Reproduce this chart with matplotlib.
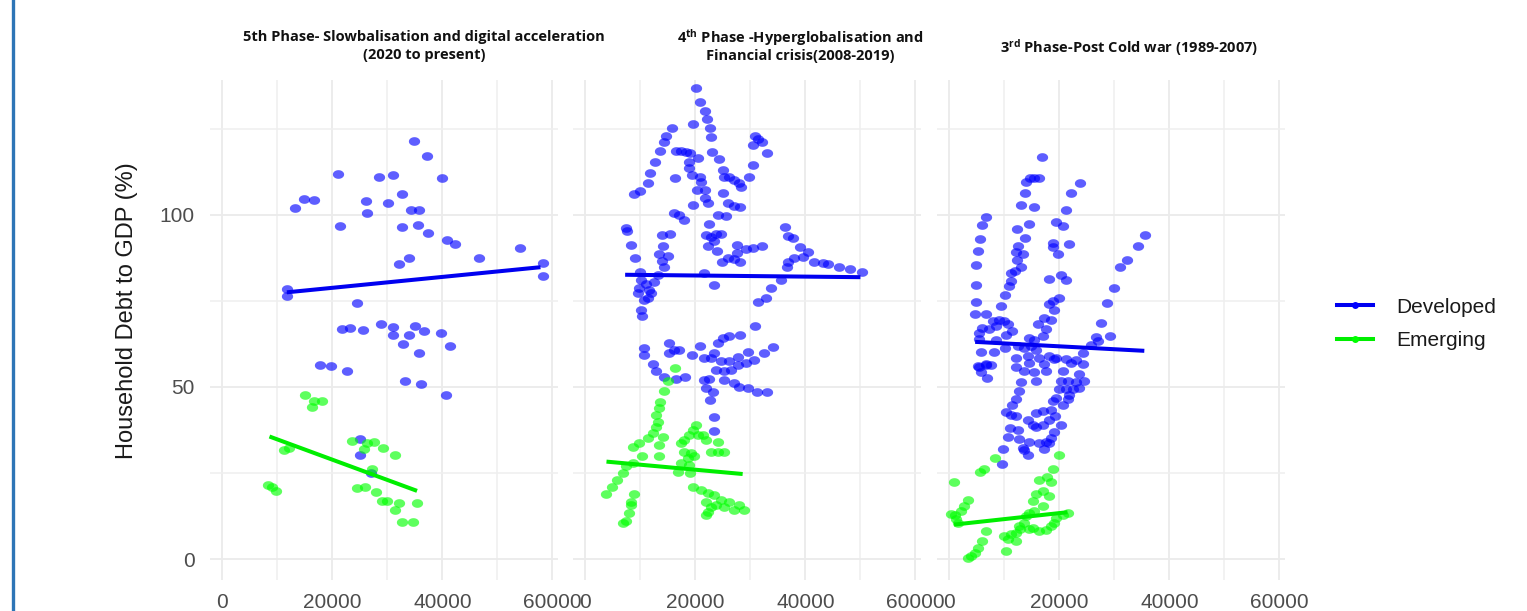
import numpy as np
import matplotlib
matplotlib.use("Agg")
import matplotlib.pyplot as plt
from matplotlib.path import Path
from matplotlib.lines import Line2D

plt.rcParams['font.family'] = ['Liberation Sans', 'DejaVu Sans']
plt.rcParams['mathtext.fontset'] = 'custom'
plt.rcParams['mathtext.rm'] = 'Open Sans:bold'
plt.rcParams['mathtext.it'] = 'Open Sans:bold'
plt.rcParams['mathtext.bf'] = 'Open Sans:bold'

# ---------------- data (GDP per capita, household debt % of GDP) ----------------
# 5th phase (2020 to present)
p5_dev = [(34790, 121.5), (37210, 117.2), (21030, 111.9), (28550, 110.9), (30970, 111.7),
          (39940, 110.8), (14790, 104.7), (16730, 104.4), (13270, 102.0), (26180, 104.1),
          (30060, 103.5), (32670, 106.0), (26360, 100.5), (34300, 101.5), (35700, 101.5),
          (21330, 96.8), (32670, 96.5), (35580, 97.0), (37400, 94.6), (40780, 92.7),
          (42360, 91.6), (54180, 90.3), (46600, 87.6), (34000, 87.6), (32180, 85.7),
          (58240, 86.1), (58240, 82.3), (11760, 78.6), (11760, 76.3), (24480, 74.3),
          (21760, 66.9), (23270, 67.1), (25510, 66.6), (28910, 68.4), (30970, 67.4),
          (31030, 65.0), (33870, 65.0), (34970, 67.8), (36600, 66.2), (39760, 65.6),
          (41330, 61.9), (32910, 62.6), (35700, 59.8), (17760, 56.4), (19700, 56.1),
          (22600, 54.6), (33270, 51.8), (36120, 50.9), (40670, 47.7), (25090, 35.0),
          (25090, 30.1), (27030, 24.9)]
p5_em = [(14970, 47.8), (16600, 45.9), (18120, 45.9), (16300, 44.1), (23580, 34.2),
         (27520, 33.9), (29210, 32.3), (25700, 32.1), (26300, 33.6), (31330, 30.1),
         (11150, 31.8), (12060, 32.4), (27210, 26.3), (8420, 21.5), (9030, 20.8),
         (9820, 19.7), (24480, 20.6), (26000, 20.8), (28000, 19.4), (29030, 17.0),
         (29940, 17.0), (32060, 16.2), (35450, 16.2), (31330, 14.2), (32670, 10.7),
         (34600, 10.7)]
p5_dev_fit = [(11760, 77.5), (57820, 84.8)]
p5_em_fit = [(8600, 35.6), (35400, 19.8)]

# 4th phase (2008-2019)
p4_dev = [(20120, 137.0), (20910, 132.7), (21820, 130.3), (22060, 127.9), (22610, 125.2),
          (22850, 122.6), (19640, 126.4), (15760, 125.2), (14670, 123.0), (14360, 121.1),
          (13640, 118.5), (12730, 115.5), (11700, 112.3), (11450, 109.2), (9940, 106.8),
          (8790, 106.2), (16480, 118.5), (17390, 118.7), (18300, 118.4), (19090, 117.9),
          (20550, 116.5), (18910, 115.3), (18910, 113.6), (19330, 111.6), (20910, 111.1),
          (21030, 109.7), (16360, 110.6), (23030, 118.2), (24360, 116.2), (24970, 113.1),
          (25150, 110.9), (26060, 110.9), (26970, 110.2), (27880, 109.4), (28300, 108.2),
          (29820, 110.9), (30420, 114.4), (30420, 120.2), (30910, 122.8), (31330, 122.0),
          (32060, 121.1), (32970, 118.1), (20300, 107.1), (21820, 107.1), (21760, 104.9),
          (22240, 103.4), (19640, 102.8), (24970, 106.3), (25880, 103.4), (26970, 102.7),
          (28180, 102.4), (24060, 100.0), (25580, 99.7), (16180, 100.5), (17090, 100.0),
          (18000, 98.5), (22420, 97.4), (7390, 96.1), (7580, 95.4), (8300, 91.3),
          (9090, 87.4), (9940, 83.5), (13880, 94.1), (15390, 94.4), (14060, 91.1),
          (13450, 88.7), (15090, 88.1), (13880, 86.6), (14240, 84.8), (21940, 94.2),
          (22850, 93.7), (23760, 94.4), (24670, 94.5), (23450, 92.4), (22240, 91.1),
          (23940, 89.5), (27580, 91.3), (29210, 90.1), (30420, 90.3), (32120, 91.1),
          (27580, 88.9), (25880, 87.4), (24790, 86.3), (28120, 86.4), (26970, 87.1),
          (36300, 96.6), (36790, 93.9), (37700, 93.2), (39090, 90.8), (40420, 89.3),
          (39520, 87.9), (38000, 87.4), (36790, 86.4), (41640, 86.4), (43150, 85.9),
          (44180, 85.7), (46180, 85.0), (48180, 84.4), (50240, 83.3), (36670, 84.8),
          (35580, 81.1), (33760, 78.7), (32850, 75.8), (31330, 74.8), (30850, 67.7),
          (21640, 83.0), (23330, 79.7), (10120, 81.1), (11030, 79.9), (12550, 80.6),
          (13150, 82.6), (9820, 78.7), (11640, 78.2), (9520, 77.2), (10730, 75.3),
          (10120, 72.4), (10420, 70.5), (11940, 77.2), (11330, 75.8), (10730, 61.4),
          (10730, 59.3), (12240, 56.6), (12850, 54.5), (14240, 52.8), (15270, 62.9),
          (15150, 59.8), (16180, 60.8), (17090, 60.8), (16480, 52.2), (18120, 52.8),
          (19330, 59.3), (20910, 61.9), (21640, 58.3), (22850, 58.3), (23450, 59.8),
          (24060, 62.9), (24970, 64.1), (26180, 64.8), (28180, 65.1), (24670, 57.4),
          (26180, 57.4), (27700, 58.8), (29510, 60.3), (30730, 57.9), (32550, 60.0),
          (34060, 61.7), (23760, 54.9), (25270, 54.5), (26480, 55.0), (27700, 56.4),
          (29210, 56.9), (21640, 52.0), (22550, 52.2), (25270, 52.0), (27090, 51.1),
          (27880, 50.1), (29510, 49.6), (31210, 48.6), (33030, 48.4), (21940, 49.6),
          (23150, 48.4), (22730, 46.2), (23330, 41.4), (23450, 37.2)]
p4_em = [(16300, 55.4), (15090, 51.7), (14360, 48.7), (13640, 45.7), (13450, 43.8),
         (12850, 41.9), (13150, 39.9), (12850, 38.3), (12240, 36.5), (11330, 35.1),
         (9820, 33.6), (8610, 32.5), (14060, 35.6), (13450, 33.1), (10420, 29.8),
         (13450, 29.8), (8610, 27.8), (7390, 26.9), (6790, 24.9), (5880, 23.0),
         (4970, 21.0), (3880, 18.9), (8790, 18.9), (8420, 16.7), (8300, 15.7),
         (8000, 13.5), (7390, 11.1), (6970, 10.6), (20120, 39.0), (19520, 37.5),
         (18910, 36.1), (18000, 34.6), (17390, 33.6), (20420, 36.1), (21330, 36.1),
         (21940, 34.6), (24060, 34.1), (22850, 31.2), (24060, 31.2), (25270, 31.2),
         (19210, 30.7), (19820, 29.8), (18610, 29.3), (18000, 31.2), (17390, 27.8),
         (18910, 27.3), (16790, 25.4), (19090, 24.9), (19520, 21.0), (21030, 20.1),
         (22240, 19.1), (23450, 18.6), (24670, 17.2), (26180, 16.7), (28000, 15.7),
         (28910, 14.3), (27090, 14.3), (22240, 13.8), (22850, 15.2), (21940, 16.7),
         (23760, 15.7), (25270, 15.2), (21940, 12.8)]
p4_dev_fit = [(7270, 82.6), (50000, 81.9)]
p4_em_fit = [(3880, 28.3), (28610, 24.7)]

# 3rd phase (1989-2007)
p3_dev = [(16790, 116.9), (13940, 109.5), (14730, 110.8), (15450, 110.8), (16240, 110.8),
          (23760, 109.3), (13820, 106.3), (22120, 106.3), (13030, 102.8), (15450, 102.3),
          (21210, 101.5), (6670, 99.3), (6060, 97.2), (14540, 97.3), (19390, 97.8),
          (20600, 96.9), (12300, 95.8), (5580, 93.1), (13820, 93.4), (5330, 89.6),
          (12600, 90.9), (12120, 89.2), (13330, 88.7), (18790, 91.7), (18910, 90.7),
          (21690, 91.4), (19700, 88.5), (4850, 85.4), (12240, 86.8), (13030, 84.8),
          (12000, 83.6), (11210, 83.1), (18180, 81.3), (20300, 82.6), (21210, 81.0),
          (11210, 80.7), (10910, 79.2), (4970, 79.7), (10180, 76.6), (4970, 74.8),
          (9390, 73.5), (20000, 75.8), (18790, 75.0), (18180, 74.0), (19090, 72.3),
          (4730, 71.1), (6670, 71.1), (7880, 69.1), (9090, 69.6), (10000, 69.1),
          (8480, 67.7), (6060, 67.2), (5450, 65.7), (7270, 66.7), (10610, 68.2),
          (11510, 66.4), (17270, 70.1), (18480, 69.4), (16060, 68.2), (17580, 66.7),
          (16970, 64.7), (15450, 63.5), (14540, 64.2), (5450, 63.8), (8600, 63.5),
          (10300, 65.2), (12600, 61.8), (13640, 61.3), (14850, 61.8), (15760, 60.8),
          (10180, 61.3), (8180, 60.3), (5760, 60.1), (12120, 58.4), (14240, 58.9),
          (16360, 58.4), (18180, 58.9), (19390, 58.4), (21210, 58.2), (23030, 57.9),
          (24240, 59.8), (25750, 62.3), (26970, 63.3), (26660, 64.4), (29270, 64.7),
          (27570, 68.5), (28660, 74.4), (29990, 78.9), (30960, 84.8), (32300, 86.8),
          (34240, 91.1), (35570, 94.1), (6670, 56.4), (5450, 55.9), (5330, 56.1),
          (6670, 56.6), (7580, 56.4), (5760, 54.2), (6970, 52.5), (12120, 55.7),
          (13640, 54.7), (14540, 57.1), (15760, 51.7), (13030, 51.3), (12720, 48.8),
          (12120, 46.4), (11510, 44.9), (10300, 42.7), (11210, 41.9), (12120, 41.5),
          (11030, 38.2), (12420, 37.5), (10610, 35.6), (12720, 34.8), (9700, 32.1),
          (13330, 32.3), (9580, 27.7), (14240, 30.2), (13640, 31.6), (14540, 34.1),
          (15760, 38.5), (14300, 40.5), (15760, 42.4), (16970, 42.9), (18180, 40.5),
          (16360, 33.6), (17580, 34.1), (18480, 35.1), (19090, 37.0), (20300, 39.0),
          (19270, 41.5), (18480, 43.4), (18790, 45.9), (19390, 46.8), (20600, 44.9),
          (21510, 46.4), (21820, 47.8), (22420, 49.3), (21210, 49.3), (20000, 49.3),
          (20300, 51.7), (21510, 51.7), (23030, 51.3), (23630, 53.7), (24540, 51.7),
          (23510, 49.6), (20600, 54.7), (22120, 57.1), (24240, 56.8), (15450, 54.2),
          (17580, 54.7), (17270, 56.6), (19090, 58.1), (16970, 39.0), (15150, 39.0),
          (17270, 32.1), (18060, 33.6)]
p3_em = [(20000, 30.2), (18790, 26.3), (17760, 23.8), (16360, 23.1), (18540, 22.3),
         (16970, 19.9), (15760, 18.9), (18060, 18.2), (15150, 17.0), (16970, 15.5),
         (15450, 14.0), (14540, 13.5), (21510, 13.5), (20600, 12.7), (19390, 12.0),
         (19090, 10.6), (18480, 9.6), (17580, 8.4), (15150, 9.1), (13940, 12.5),
         (12960, 8.6), (12120, 7.7), (11210, 7.2), (10000, 6.7), (10610, 5.7),
         (12120, 5.2), (10300, 2.2), (12720, 9.6), (13640, 10.6), (6670, 8.1),
         (6060, 5.3), (5330, 3.3), (4730, 1.7), (3940, 0.8), (3450, 0.3),
         (970, 22.3), (420, 13.0), (1030, 12.7), (1640, 10.6), (2120, 14.0),
         (2730, 15.5), (3450, 17.2), (1330, 11.6), (5580, 25.3), (6360, 26.3),
         (8360, 29.4), (14540, 8.6), (16360, 8.1)]
p3_dev_fit = [(4730, 63.1), (35450, 60.5)]
p3_em_fit = [(900, 10.0), (21500, 13.6)]

panels = [
    ("p5", p5_dev, p5_em, p5_dev_fit, p5_em_fit),
    ("p4", p4_dev, p4_em, p4_dev_fit, p4_em_fit),
    ("p3", p3_dev, p3_em, p3_dev_fit, p3_em_fit),
]
x_ticks = [0, 20000, 40000, 60000]
x_tick_labels = ['0', '20000', '40000', '60000']
y_ticks = [0, 50, 100]
y_tick_labels = ['0', '50', '100']
groups = ['Developed', 'Emerging']
colors = {'Developed': '#0000FF', 'Emerging': '#00FF00'}
line_colors = {'Developed': '#0000F0', 'Emerging': '#00EE00'}

W, H = 1527, 611
fig = plt.figure(figsize=(W / 100, H / 100), dpi=100)

# slightly wide elliptical point marker (the original image is stretched)
t = np.linspace(0, 2 * np.pi, 41)
ell = Path(np.column_stack([1.3 * np.cos(t), np.sin(t)]), closed=True)

lefts = [210, 573, 937]
for i, (name, dev, em, dev_fit, em_fit) in enumerate(panels):
    ax = fig.add_axes([lefts[i] / W, 31 / H, 348 / W, 500 / H])
    ax.set_xlim(-2200, 61000)
    ax.set_ylim(-6.1, 139.2)
    ax.set_xticks(x_ticks)
    ax.set_xticklabels(x_tick_labels)
    ax.set_xticks([10000, 30000, 50000], minor=True)
    ax.set_yticks(y_ticks)
    ax.set_yticklabels(y_tick_labels)
    ax.set_yticks([25, 75, 125], minor=True)
    ax.grid(which='major', color='#EBEBEB', lw=1.3)
    ax.grid(which='minor', color='#EFEFEF', lw=1.1)
    ax.set_axisbelow(True)
    for s in ax.spines.values():
        s.set_visible(False)
    ax.tick_params(which='both', length=0, labelsize=15, labelcolor='#4D4D4D')
    ax.tick_params(axis='x', pad=9)
    ax.tick_params(axis='y', pad=11)
    if i > 0:
        ax.tick_params(labelleft=False)

    for g, pts in zip(groups, [dev, em]):
        arr = np.array(pts)
        ax.scatter(arr[:, 0], arr[:, 1], s=66, marker=ell, color=colors[g],
                   alpha=0.63, linewidths=0, zorder=2)
    for g, fit in zip(groups, [dev_fit, em_fit]):
        arr = np.array(fit)
        ax.plot(arr[:, 0], arr[:, 1], color=line_colors[g], lw=2.9,
                solid_capstyle='butt', zorder=3)

# titles
tkw = dict(ha='center', va='center', fontsize=10.5, fontweight='bold',
           family=['Open Sans', 'DejaVu Sans'], color='#111111')
fig.text(424 / W, 1 - 37 / H, '5th Phase- Slowbalisation and digital acceleration', **tkw)
fig.text(424 / W, 1 - 55 / H, '(2020 to present)', **tkw)
fig.text(800 / W, 1 - 38 / H, '4$^{th}$ Phase -Hyperglobalisation and', **tkw)
fig.text(800 / W, 1 - 56 / H, 'Financial crisis(2008-2019)', **tkw)
fig.text(1129 / W, 1 - 48 / H, '3$^{rd}$ Phase-Post Cold war (1989-2007)', **tkw)

# y axis title
fig.text(127 / W, 1 - 311 / H, 'Household Debt to GDP (%)', rotation=90,
         ha='center', va='center', fontsize=17, color='#1A1A1A')

# legend
handles = [Line2D([], [], color=line_colors[g], lw=2.9, marker='o', markersize=5,
                  markerfacecolor=colors[g], markeredgewidth=0) for g in groups]
fig.legend(handles, groups, loc='center left', bbox_to_anchor=(1337 / W, 1 - 324 / H),
           frameon=False, fontsize=15, handlelength=1.75, handletextpad=1.1,
           labelspacing=0.7, borderpad=0, borderaxespad=0, labelcolor='#1A1A1A')

# blue border line at the left edge of the picture
fig.add_artist(Line2D([13 / W, 13 / W], [0, 1], color='#2E75B6', lw=2.4,
                      transform=fig.transFigure))

fig.savefig('out.png', dpi=100)
